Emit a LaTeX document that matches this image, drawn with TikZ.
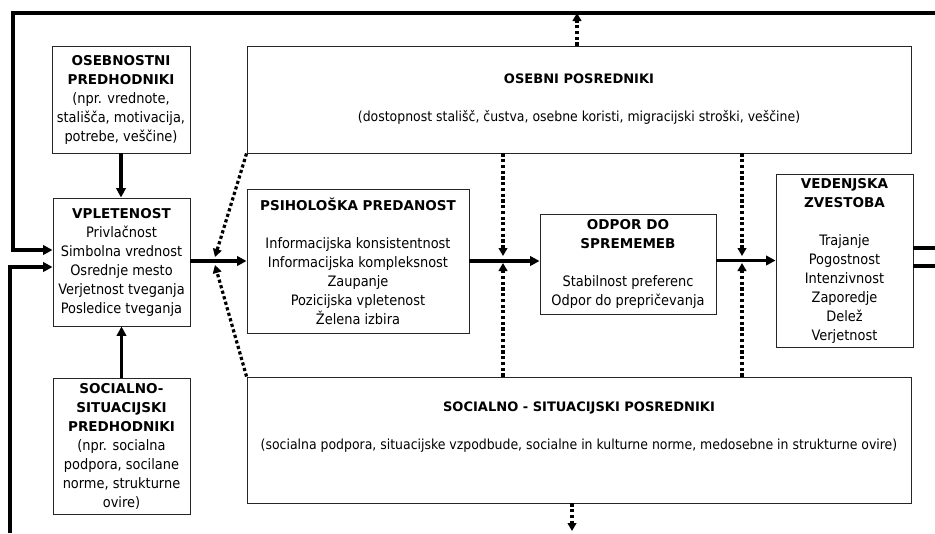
\documentclass[tikz,border=0pt]{standalone}
\usepackage{fontspec}
\setmainfont{DejaVu Sans Condensed}[BoldFont={DejaVu Sans Bold}, BoldFeatures={Scale=0.94}]
\usetikzlibrary{arrows.meta}
\begin{document}
\begin{tikzpicture}[x=0.75pt,y=-0.75pt,
  box/.style={draw=black!85, line width=0.7pt, align=center, inner sep=2pt,
    font=\fontsize{10.8}{14.25}\selectfont},
  wide/.style={box, font=\fontsize{10.4}{14.25}\selectfont},
  flow/.style={line width=2.4pt, -{Triangle[length=7pt,width=7pt]}},
  loopline/.style={line width=2.4pt},
  moder/.style={line width=2.4pt, dash pattern=on 2.4pt off 1.9pt,
    -{Triangle[length=6pt,width=6.5pt]}},
]
\useasboundingbox (0,0) rectangle (935,533);

% antecedents and involvement
\node[box, minimum width=103.5pt, minimum height=80.25pt] (osebn) at (121,99.5)
  {\textbf{OSEBNOSTNI}\\\textbf{PREDHODNIKI}\\(npr. vrednote,\\stališča, motivacija,\\potrebe, veščine)};
\node[box, minimum width=102.75pt, minimum height=96pt] (vp) at (121.5,262)
  {\textbf{VPLETENOST}\\Privlačnost\\Simbolna vrednost\\Osrednje mesto\\Verjetnost tveganja\\Posledice tveganja};
\node[box, minimum width=102.75pt, minimum height=102pt] (socpred) at (121.5,446)
  {\textbf{SOCIALNO-}\\\textbf{SITUACIJSKI}\\\textbf{PREDHODNIKI}\\(npr. socialna\\podpora, socilane\\norme, strukturne\\ovire)};

% mediators
\node[wide, minimum width=498pt, minimum height=80.25pt] (opos) at (579,99.5)
  {\textbf{OSEBNI POSREDNIKI}\\[\baselineskip](dostopnost stališč, čustva, osebne koristi, migracijski stroški, veščine)};
\node[wide, minimum width=498pt, minimum height=94.5pt] (spos) at (579,440)
  {\textbf{SOCIALNO - SITUACIJSKI POSREDNIKI}\\[\baselineskip](socialna podpora, situacijske vzpodbude, socialne in kulturne norme, medosebne in strukturne ovire)\\[8pt]~};

% main chain
\node[box, minimum width=166.5pt, minimum height=108pt] (psih) at (358,261)
  {\textbf{PSIHOLOŠKA PREDANOST}\\[\baselineskip]Informacijska konsistentnost\\Informacijska kompleksnost\\Zaupanje\\Pozicijska vpletenost\\Želena izbira};
\node[box, minimum width=132pt, minimum height=75pt] (odpor) at (628,264)
  {\textbf{ODPOR DO}\\\textbf{SPREMEMEB}\\[\baselineskip]Stabilnost preferenc\\Odpor do prepričevanja};
\node[box, minimum width=102.75pt, minimum height=129.75pt] (ved) at (844.5,260.5)
  {\textbf{VEDENJSKA}\\\textbf{ZVESTOBA}\\[\baselineskip]Trajanje\\Pogostnost\\Intenzivnost\\Zaporedje\\Delež\\Verjetnost};

% junction points of the moderating arrows
\coordinate (j0t) at (215,257); \coordinate (j0b) at (215,265);
\coordinate (j1t) at (503,256); \coordinate (j1b) at (503,263);
\coordinate (j2t) at (742,256); \coordinate (j2b) at (742,263);
\coordinate (upend) at (577,13);
\coordinate (downend) at (572,531);

% feedback loops
\coordinate (topR) at (935,13);
\coordinate (topL) at (13,13);
\coordinate (inA) at (13,250);
\coordinate (botL) at (10,533);
\coordinate (inB) at (10,267);
\coordinate (outA) at (935,248);
\coordinate (outB) at (935,266);

\draw[loopline, -{Triangle[length=7pt,width=7pt]}] (topR) -- (topL) -- (inA) -- (vp.west |- inA);
\draw[loopline, -{Triangle[length=7pt,width=7pt]}] (botL) -- (inB) -- (vp.west |- inB);
\draw[loopline] (ved.east |- outA) -- (outA);
\draw[loopline] (ved.east |- outB) -- (outB);

% solid flow
\draw[flow] (osebn.south) -- (osebn.south |- vp.north);
\draw[flow] (socpred.north) -- (socpred.north |- vp.south);
\draw[flow] (vp.east |- psih.west) -- (psih.west);
\draw[flow] (psih.east) -- (psih.east -| odpor.west);
\draw[flow] (odpor.east |- ved.west) -- (ved.west);

% moderating (dotted) arrows
\draw[moder] (opos.south west) -- (j0t);
\draw[moder] (spos.north west) -- (j0b);
\draw[moder] (opos.south -| j1t) -- (j1t);
\draw[moder] (spos.north -| j1b) -- (j1b);
\draw[moder] (opos.south -| j2t) -- (j2t);
\draw[moder] (spos.north -| j2b) -- (j2b);
\draw[moder] (opos.north -| upend) -- (upend);
\draw[moder] (spos.south -| downend) -- (downend);
\end{tikzpicture}
\end{document}
